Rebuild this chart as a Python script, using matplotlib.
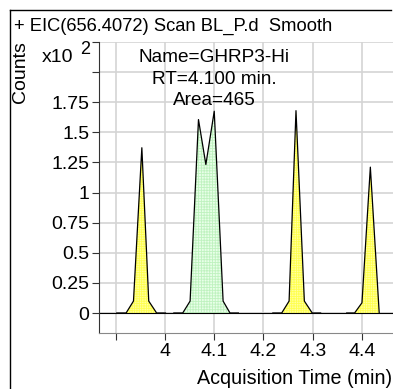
import numpy as np
import matplotlib
matplotlib.use('Agg')
import matplotlib.pyplot as plt

plt.rcParams['font.family'] = ['Liberation Sans', 'DejaVu Sans']
plt.rcParams['hatch.linewidth'] = 0.6

# peaks (time in min, counts x10^2)
t_p1 = [3.902, 3.921, 3.936, 3.953, 3.967, 3.983, 4.001]
y_p1 = [0, 0, 0.099, 1.372, 0.099, 0, 0]

t_p2 = [4.018, 4.036, 4.051, 4.068, 4.083, 4.100, 4.118, 4.132, 4.149]
y_p2 = [0, 0, 0.099, 1.606, 1.233, 1.675, 0.099, 0, 0]

t_p3 = [4.219, 4.237, 4.252, 4.266, 4.283, 4.299, 4.316]
y_p3 = [0, 0, 0.099, 1.680, 0.099, 0, 0]

t_p4 = [4.369, 4.385, 4.400, 4.417, 4.435]
y_p4 = [0, 0, 0.085, 1.211, 0]

x_ticks = [3.9, 4.0, 4.1, 4.2, 4.3, 4.4]
x_labels = ['', '4', '4.1', '4.2', '4.3', '4.4']
y_ticks = [0, 0.25, 0.5, 0.75, 1, 1.25, 1.5, 1.75, 2, 2.25]
y_labels = ['0', '0.25', '0.5', '0.75', '1', '1.25', '1.5', '1.75', '', '']

W, H = 393, 389
fig = plt.figure(figsize=(W / 100, H / 100), dpi=100)
ax = fig.add_axes([99 / W, (H - 333) / H, (W - 99) / W, (333 - 42) / H])

yellow = dict(facecolor='#ffffa0', edgecolor='#ffff50', hatch='+++++++', linewidth=0)
green = dict(facecolor='#e8ffe8', edgecolor='#bff2bf', hatch='++++++', linewidth=0)

for t, y, style in [(t_p1, y_p1, yellow), (t_p2, y_p2, green),
                    (t_p3, y_p3, yellow), (t_p4, y_p4, yellow)]:
    t = np.array(t)
    y = np.array(y)
    # fill only the part above the baseline samples
    i0 = 1
    i1 = len(t) - 1 if y[-2] == 0 else len(t)
    ax.fill_between(t[i0:i1], y[i0:i1], 0, zorder=2, **style)
    ax.plot(t, y, color='black', lw=0.9, zorder=3)

ax.axhline(0, color='black', lw=0.8, zorder=2.5)

ax.set_xlim(3.866, 4.463)
ax.set_ylim(-0.166, 2.243)
ax.set_xticks(x_ticks)
ax.set_xticklabels(x_labels)
ax.set_yticks(y_ticks)
ax.set_yticklabels(y_labels)
ax.tick_params(labelsize=14, length=5, width=0.8, color='#333333', pad=2)
ax.grid(True, color='#d4d4d4', lw=1.2, zorder=0)
ax.set_axisbelow(True)
for s in ['top', 'right']:
    ax.spines[s].set_visible(False)
ax.spines['left'].set_color('#333333')
ax.spines['bottom'].set_color('#888888')

ax.text(4.0996, 2.19, 'Name=GHRP3-Hi\nRT=4.100 min.\nArea=465', ha='center', va='top',
        fontsize=13.7, linespacing=1.34)

fig.text(14 / W, 1 - 26 / H, '+ EIC(656.4072) Scan BL_P.d  Smooth', fontsize=13.2, va='center')
fig.text(21 / W, 1 - 72 / H, 'Counts', rotation=90, fontsize=14, ha='center', va='center')
fig.text(42 / W, 1 - 57 / H, 'x10', fontsize=14, va='center')
fig.text(80 / W, 1 - 49 / H, '2', fontsize=13, va='center')
fig.text(392 / W, 1 - 379 / H, 'Acquisition Time (min)', fontsize=14.2, ha='right', va='center')

# outer frame
fig.add_artist(plt.Line2D([10 / W, 10 / W], [0, 1 - 10 / H], color='black', lw=1, transform=fig.transFigure))
fig.add_artist(plt.Line2D([10 / W, 391 / W], [1 - 10 / H, 1 - 10 / H], color='black', lw=1, transform=fig.transFigure))

fig.savefig('out.png', dpi=100)
